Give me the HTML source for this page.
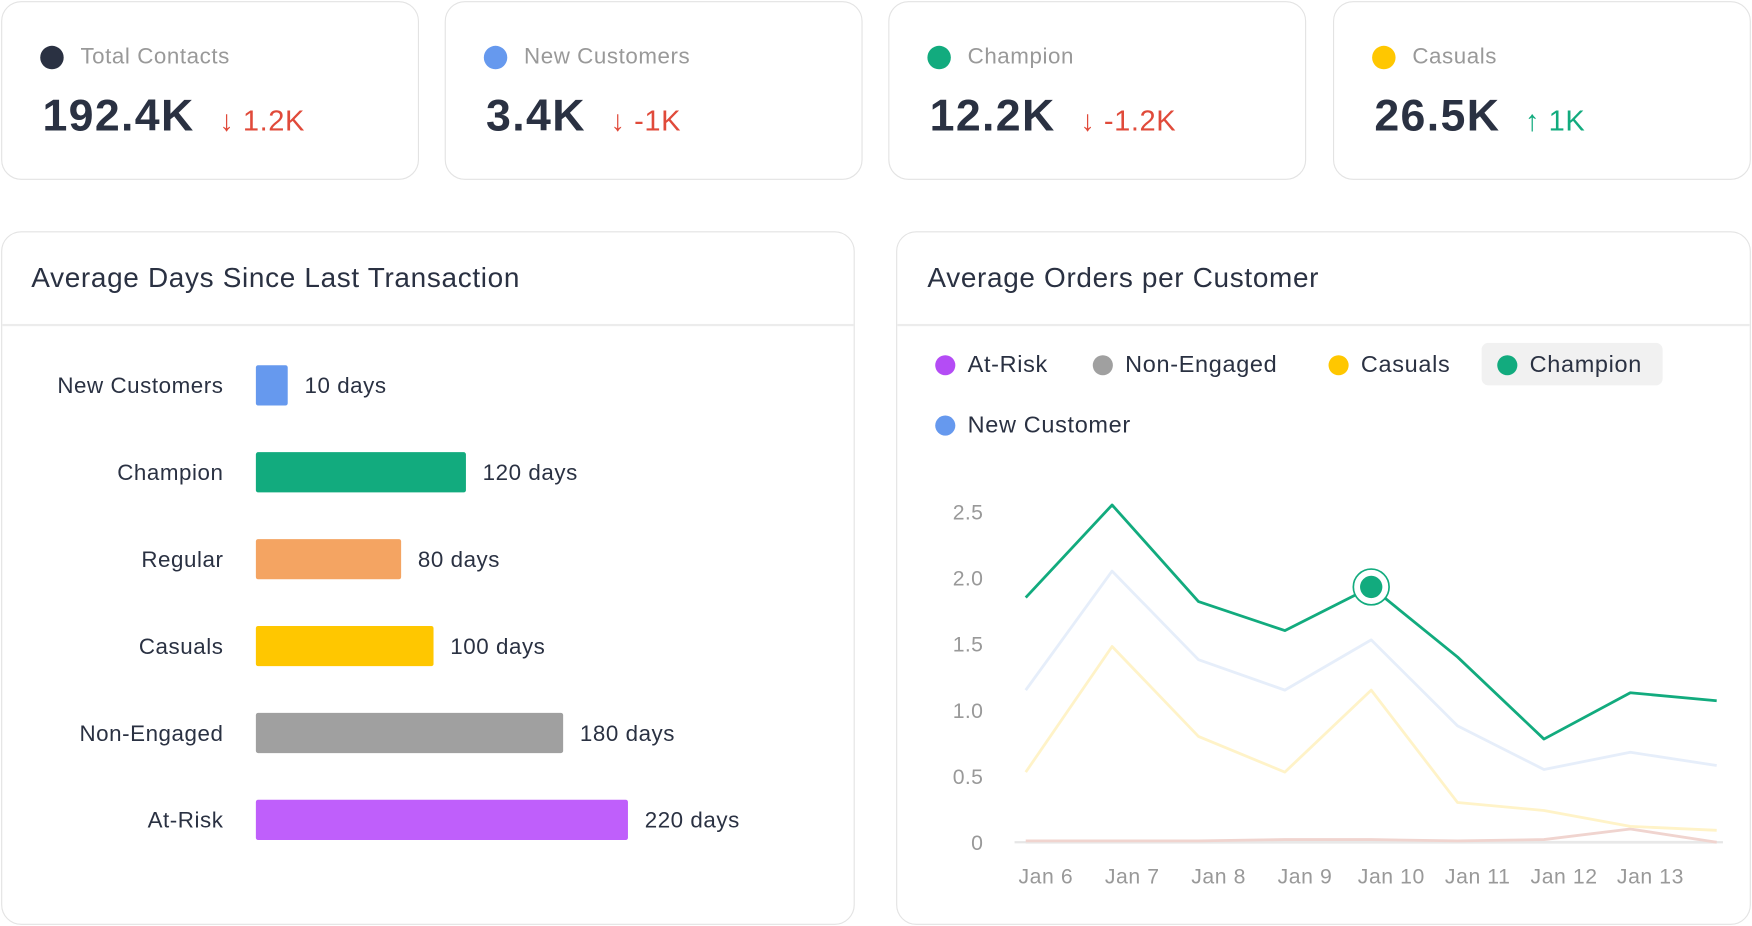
<!DOCTYPE html>
<html><head><meta charset="utf-8"><style>
html,body{margin:0;padding:0;background:#fff;width:1752px;height:926px;overflow:hidden}
#root{position:relative;width:1568px;height:829px;transform:scale(1.11735,1.117);transform-origin:0 0;font-family:"Liberation Sans",sans-serif;color:#2a3142;letter-spacing:0.3px}
.card{position:absolute;border:1.5px solid #e3e3e3;border-radius:18px;background:#fff;box-sizing:border-box}
.kl{position:absolute;left:34px;top:38px;font-size:20px;color:#999;display:flex;align-items:center;letter-spacing:0.5px}
.kl i{display:inline-block;width:21px;height:21px;border-radius:50%;margin-right:15px}
.kv{position:absolute;left:36px;top:80px;font-size:40px;font-weight:bold;color:#2a3142;white-space:nowrap;letter-spacing:1.2px}
.kv span{font-size:26px;font-weight:normal;margin-left:22px;letter-spacing:0.5px}
.title{position:absolute;left:28px;top:235px;font-size:25px;color:#2a3142;letter-spacing:0.6px}
.sep{position:absolute;height:1.5px;background:#ececec}
.lg{position:absolute;font-size:21px;color:#2a3142;display:flex;align-items:center;letter-spacing:0.6px}
.lg i{display:inline-block;width:18px;height:18px;border-radius:50%;margin-right:11px}
</style></head><body>
<div id="root">
<div class="card" style="left:1px;top:1px;width:374px;height:160px"><div class="kl"><i style="background:#2a3142"></i>Total Contacts</div><div class="kv">192.4K<span style="color:#e04a3a">↓ 1.2K</span></div></div>
<div class="card" style="left:398px;top:1px;width:374px;height:160px"><div class="kl"><i style="background:#6699ee"></i>New Customers</div><div class="kv">3.4K<span style="color:#e04a3a">↓ -1K</span></div></div>
<div class="card" style="left:795px;top:1px;width:374px;height:160px"><div class="kl"><i style="background:#12ab7e"></i>Champion</div><div class="kv">12.2K<span style="color:#e04a3a">↓ -1.2K</span></div></div>
<div class="card" style="left:1193px;top:1px;width:374px;height:160px"><div class="kl"><i style="background:#ffc700"></i>Casuals</div><div class="kv">26.5K<span style="color:#12ab7e">↑ 1K</span></div></div>

<div class="card" style="left:1px;top:207px;width:764px;height:621px"></div>
<div class="title">Average Days Since Last Transaction</div>
<div class="sep" style="left:2px;top:290px;width:762px"></div>
<svg id="bars" style="position:absolute;left:0;top:0" width="765" height="829"></svg>

<div class="card" style="left:802px;top:207px;width:765px;height:621px"></div>
<div class="title" style="left:830px">Average Orders per Customer</div>
<div class="sep" style="left:803px;top:290px;width:763px"></div>
<div style="position:absolute;left:1326px;top:307px;width:162px;height:38px;background:#f1f1f1;border-radius:6px"></div>
<div class="lg" style="left:837px;top:315px"><i style="background:#b44cf5"></i>At-Risk</div>
<div class="lg" style="left:978px;top:315px"><i style="background:#a0a0a0"></i>Non-Engaged</div>
<div class="lg" style="left:1189px;top:315px"><i style="background:#ffc700"></i>Casuals</div>
<div class="lg" style="left:1340px;top:315px"><i style="background:#12ab7e"></i>Champion</div>
<div class="lg" style="left:837px;top:369px"><i style="background:#6699ee"></i>New Customer</div>
<svg id="line" style="position:absolute;left:0;top:0" width="1568" height="829"></svg>
</div>
<script>
const barCats=["New Customers","Champion","Regular","Casuals","Non-Engaged","At-Risk"];
const barVals=[10,120,80,100,180,220];
const barColors=["#6699ee","#12ab7e","#f4a462","#ffc700","#a0a0a0","#bf5ffb"];
const NS="http://www.w3.org/2000/svg";
function mk(p,t,a){const e=document.createElementNS(NS,t);for(const k in a)e.setAttribute(k,a[k]);p.appendChild(e);return e;}
const bs=document.getElementById('bars');
const bx=v=>229+14+v*1.45;
barCats.forEach((c,i)=>{
  const y=345+i*77.8;
  const t=mk(bs,'text',{x:200,y:y+7,'text-anchor':'end','font-size':20,fill:'#2a3142','letter-spacing':0.5});t.textContent=c;
  
  
  const r=mk(bs,'rect',{x:229,y:y-18,width:bx(barVals[i])-229,height:36,fill:barColors[i],rx:2});
  
  
  const v=mk(bs,'text',{x:bx(barVals[i])+15,y:y+7,'font-size':20,fill:'#2a3142','letter-spacing':0.5});v.textContent=barVals[i]+' days';
  
  
});
const xLabels=["Jan 6","Jan 7","Jan 8","Jan 9","Jan 10","Jan 11","Jan 12","Jan 13"];
const yTicks=[0,0.5,1.0,1.5,2.0,2.5];
const champion=[1.85,2.55,1.82,1.6,1.93,1.4,0.78,1.13,1.07];
const newCust=[1.15,2.05,1.38,1.15,1.53,0.88,0.55,0.68,0.58];
const casuals=[0.53,1.48,0.8,0.53,1.15,0.3,0.24,0.12,0.09];
const atRisk=[0.01,0.01,0.01,0.02,0.02,0.01,0.02,0.1,0];
const nonEng=[0,0,0,0,0,0,0,0,0];
const ls=document.getElementById('line');
const X=i=>918+i*77.3, Y=v=>754-v*118.4;
yTicks.forEach(t=>{const e=mk(ls,'text',{x:880,y:Y(t)+7,'text-anchor':'end','font-size':19,fill:'#999'});e.textContent=t===0?'0':t.toFixed(1);
 });
xLabels.forEach((l,i)=>{const e=mk(ls,'text',{x:X(i)+18,y:791,'text-anchor':'middle','font-size':19,fill:'#999','letter-spacing':0.5});e.textContent=l;
 });
mk(ls,'line',{x1:908,x2:1542,y1:Y(0),y2:Y(0),stroke:'#e6e6e6','stroke-width':2});
function series(d,c,w,n){const p=mk(ls,'polyline',{points:d.map((v,i)=>X(i)+','+Y(v)).join(' '),fill:'none',stroke:c,'stroke-width':w,'stroke-linejoin':'round'});
 }
series(nonEng,'#e8e8e8',2.5,'line-non-engaged');
series(atRisk,'#f0d4cf',2.5,'line-at-risk');
series(casuals,'#fff3c8',2.5,'line-casuals');
series(newCust,'#e6eefa',2.5,'line-new-customer');
series(champion,'#12ab7e',2.5,'line-champion');
const hc=mk(ls,'circle',{cx:X(4),cy:Y(champion[4]),r:16,fill:'#fff',stroke:'#12ab7e','stroke-width':1.5});

mk(ls,'circle',{cx:X(4),cy:Y(champion[4]),r:10,fill:'#12ab7e'});
</script>
</body></html>
